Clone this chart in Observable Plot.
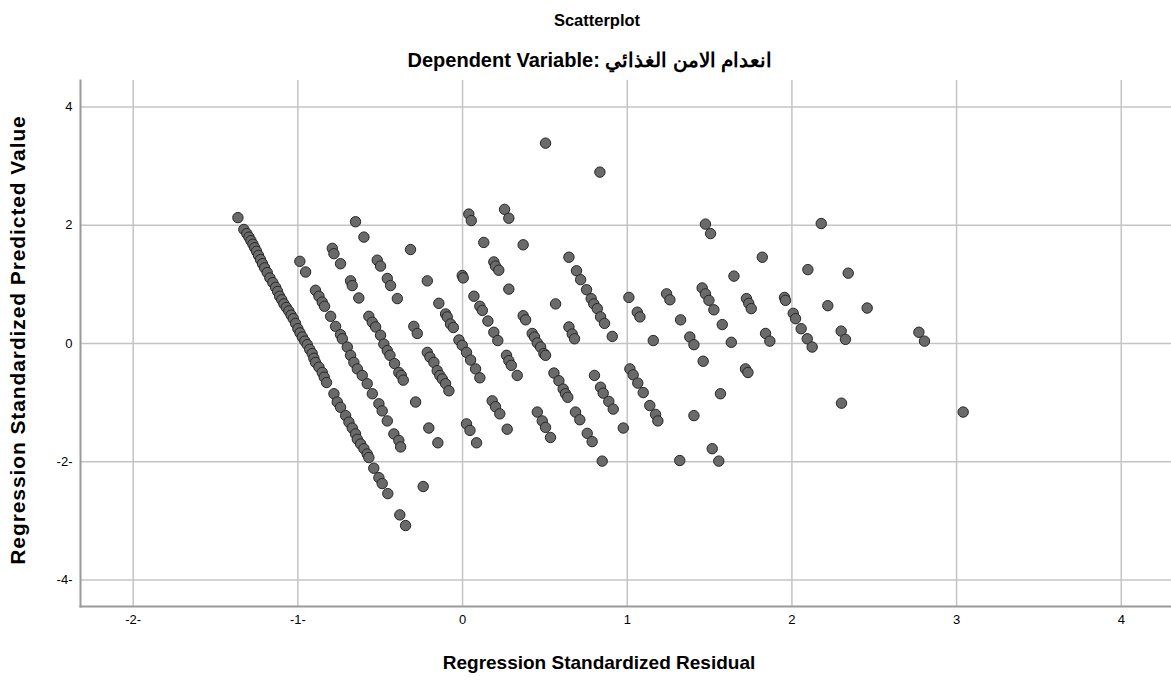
<!DOCTYPE html>
<html><head><meta charset="utf-8">
<script src="https://cdn.jsdelivr.net/npm/d3@7"></script>
<script src="https://cdn.jsdelivr.net/npm/@observablehq/plot@0.6"></script>
<style>
body{margin:0;background:#fff;}
#wrap{position:relative;width:1171px;height:680px;font-family:"Liberation Sans",Arial,sans-serif;color:#000;overflow:hidden;}
#wrap svg{position:absolute;left:0;top:0;}
.lab{position:absolute;font-weight:bold;white-space:nowrap;transform:translate(-50%,-50%);}
</style></head><body>
<div id="wrap">
<div class="lab" id="title" style="left:597px;top:20px;font-size:16.5px;">Scatterplot</div>
<div class="lab" id="sub" style="left:590px;top:60px;font-size:20px;">Dependent Variable: <span dir="rtl">انعدام الامن الغذائي</span></div>
<div class="lab" id="xl" style="left:599px;top:663px;font-size:19px;">Regression Standardized Residual</div>
<div class="lab" id="yl" style="left:18px;top:340px;font-size:21px;letter-spacing:0.9px;transform:translate(-50%,-50%) rotate(-90deg);">Regression Standardized Predicted Value</div>
</div>
<script>
const xTicks = [-2, -1, 0, 1, 2, 3, 4];
const yTicks = [-4, -2, 0, 2, 4];
// Regression Standardized Residual
const residual = [
-1.364,-1.328,-1.310,-1.297,-1.285,-1.273,-1.262,-1.251,-1.239,-1.227,-1.215,-1.202,-1.186,-1.170,-1.152,-1.135,-1.123,-1.111,-1.098,-1.085,-1.070,-1.055,-1.041,-1.028,-1.014,-1.000,-0.987,-0.973,-0.958,-0.943,-0.928,-0.913,-0.903,-0.893,-0.872,-0.852,-0.840,-0.826,
-0.781,-0.761,-0.741,-0.710,-0.690,-0.670,-0.650,-0.639,-0.619,-0.599,-0.579,-0.569,-0.539,-0.508,-0.488,-0.454,-0.381,-0.346,
-0.988,-0.953,-0.893,-0.872,-0.852,-0.838,-0.801,-0.771,-0.741,-0.730,-0.700,-0.680,-0.660,-0.639,-0.609,-0.579,-0.548,-0.508,-0.488,-0.457,-0.417,-0.387,-0.376,
-0.650,-0.599,
-0.791,-0.781,-0.741,-0.680,-0.670,-0.630,-0.569,-0.548,-0.528,-0.498,-0.478,-0.457,-0.441,-0.413,-0.387,-0.372,-0.360,
-0.518,-0.498,-0.457,-0.437,-0.396,
-0.316,-0.296,-0.275,-0.285,-0.205,-0.150,-0.239,-0.214,
-0.144,-0.103,-0.093,-0.073,-0.056,
-0.214,-0.198,-0.174,-0.154,-0.138,-0.123,-0.103,-0.083,
-0.002,0.004,0.038,0.053,0.129,0.190,0.200,0.220,0.255,0.281,0.368,0.281,
0.069,0.105,0.120,0.154,0.190,0.214,
-0.022,-0.002,0.024,0.049,0.079,0.105,
0.368,0.383,0.423,0.437,0.454,0.474,0.494,0.504,
0.267,0.281,0.296,0.332,0.565,
0.646,0.692,0.717,0.753,0.781,0.797,0.818,0.838,0.862,0.909,
0.646,0.666,0.680,1.010,
0.180,0.200,0.226,0.271,0.024,0.045,0.085,
0.555,0.585,0.611,0.625,0.639,
0.454,0.484,0.504,0.534,0.686,0.712,0.757,0.787,0.848,0.801,
0.838,0.854,0.888,0.915,0.976,
1.016,1.036,1.064,1.097,1.137,1.172,1.186,
0.504,0.834,1.475,1.506,2.178,
1.061,1.077,1.239,1.259,1.324,1.158,1.380,1.405,
1.455,1.475,1.496,1.526,1.577,1.648,1.632,1.820,
1.724,1.738,1.753,1.840,1.866,1.955,1.961,
2.008,2.022,2.056,2.093,2.123,2.097,2.218,2.299,2.325,
1.461,1.718,1.733,1.566,1.405,1.516,1.556,1.319,
2.342,2.457,2.771,2.805,2.301,3.040
];
// Regression Standardized Predicted Value
const predicted = [
2.13,1.93,1.86,1.80,1.74,1.68,1.62,1.56,1.49,1.42,1.35,1.28,1.20,1.11,1.03,0.95,0.88,0.80,0.74,0.67,0.61,0.55,0.48,0.42,0.34,0.25,0.18,0.11,0.04,-0.02,-0.10,-0.17,-0.25,-0.32,-0.40,-0.49,-0.57,-0.66,
-0.85,-0.99,-1.08,-1.22,-1.33,-1.43,-1.53,-1.62,-1.70,-1.78,-1.87,-1.93,-2.11,-2.27,-2.37,-2.54,-2.90,-3.08,
1.39,1.21,0.90,0.80,0.70,0.63,0.46,0.29,0.15,0.08,-0.06,-0.20,-0.32,-0.43,-0.54,-0.68,-0.85,-1.02,-1.14,-1.31,-1.53,-1.64,-1.75,
2.06,1.80,
1.61,1.52,1.35,1.06,0.98,0.77,0.46,0.36,0.28,0.14,-0.01,-0.12,-0.20,-0.34,-0.49,-0.54,-0.62,
1.41,1.31,1.10,0.98,0.76,
1.59,0.29,0.17,-0.99,-1.43,-1.68,-2.42,1.06,
0.68,0.50,0.45,0.33,0.27,
-0.15,-0.23,-0.32,-0.46,-0.54,-0.60,-0.68,-0.80,
1.15,1.11,2.19,2.08,1.71,1.38,1.31,1.24,2.27,2.12,1.67,0.92,
0.80,0.63,0.56,0.38,0.19,0.05,
0.06,-0.03,-0.15,-0.28,-0.43,-0.58,
0.47,0.40,0.17,0.11,0.01,-0.06,-0.17,-0.20,
-0.20,-0.29,-0.37,-0.54,0.67,
1.46,1.23,1.08,0.91,0.76,0.67,0.59,0.45,0.34,0.12,
0.28,0.16,0.08,0.78,
-0.97,-1.07,-1.19,-1.45,-1.36,-1.47,-1.68,
-0.50,-0.63,-0.77,-0.85,-0.91,
-1.16,-1.31,-1.42,-1.59,-1.16,-1.29,-1.52,-1.66,-1.99,-0.54,
-0.74,-0.84,-0.98,-1.11,-1.43,
-0.43,-0.53,-0.67,-0.83,-1.05,-1.20,-1.31,
3.39,2.90,2.02,1.86,2.03,
0.53,0.45,0.84,0.74,0.40,0.05,0.11,-0.02,
0.94,0.84,0.73,0.57,0.32,1.14,0.02,1.46,
0.76,0.68,0.59,0.17,0.04,0.78,0.73,
0.51,0.42,0.25,0.08,-0.06,1.25,0.64,0.21,0.07,
-0.30,-0.43,-0.49,-0.85,-1.22,-1.78,-1.99,-1.98,
1.19,0.60,0.19,0.04,-1.01,-1.16
];
const points = residual.map((r, i) => ({residual: r, predicted: predicted[i]}));
const fmt = d => d < 0 ? `-${-d}-` : `${d}`;

const chart = Plot.plot({
  width: 1171,
  height: 680,
  marginLeft: 80,
  marginRight: 0,
  marginTop: 80,
  marginBottom: 74,
  style: {fontFamily: "'Liberation Sans', Arial, sans-serif", fontSize: "13px", color: "#000", background: "transparent", overflow: "visible"},
  x: {domain: [-2.32, 4.305], ticks: xTicks, tickFormat: fmt, label: null},
  y: {domain: [-4.45, 4.45], ticks: yTicks, tickFormat: fmt, label: null},
  marks: [
    Plot.gridX(xTicks, {stroke: "#c4c4c4", strokeOpacity: 1, strokeWidth: 1.5}),
    Plot.gridY(yTicks, {stroke: "#c4c4c4", strokeOpacity: 1, strokeWidth: 1.5}),
    Plot.frame({anchor: "left", stroke: "#9a9a9a", strokeWidth: 2}),
    Plot.frame({anchor: "bottom", stroke: "#9a9a9a", strokeWidth: 2}),
    Plot.axisX(xTicks, {tickSize: 0, tickPadding: 8, tickFormat: fmt, fill: "#000"}),
    Plot.axisY(yTicks, {tickSize: 0, tickPadding: 8, tickFormat: fmt, fill: "#000"}),
    Plot.dot(points, {x: "residual", y: "predicted", r: 5.2, fill: "#6a6a6a", stroke: "#262626", strokeWidth: 1})
  ]
});
document.getElementById("wrap").prepend(chart);
</script>
</body></html>
